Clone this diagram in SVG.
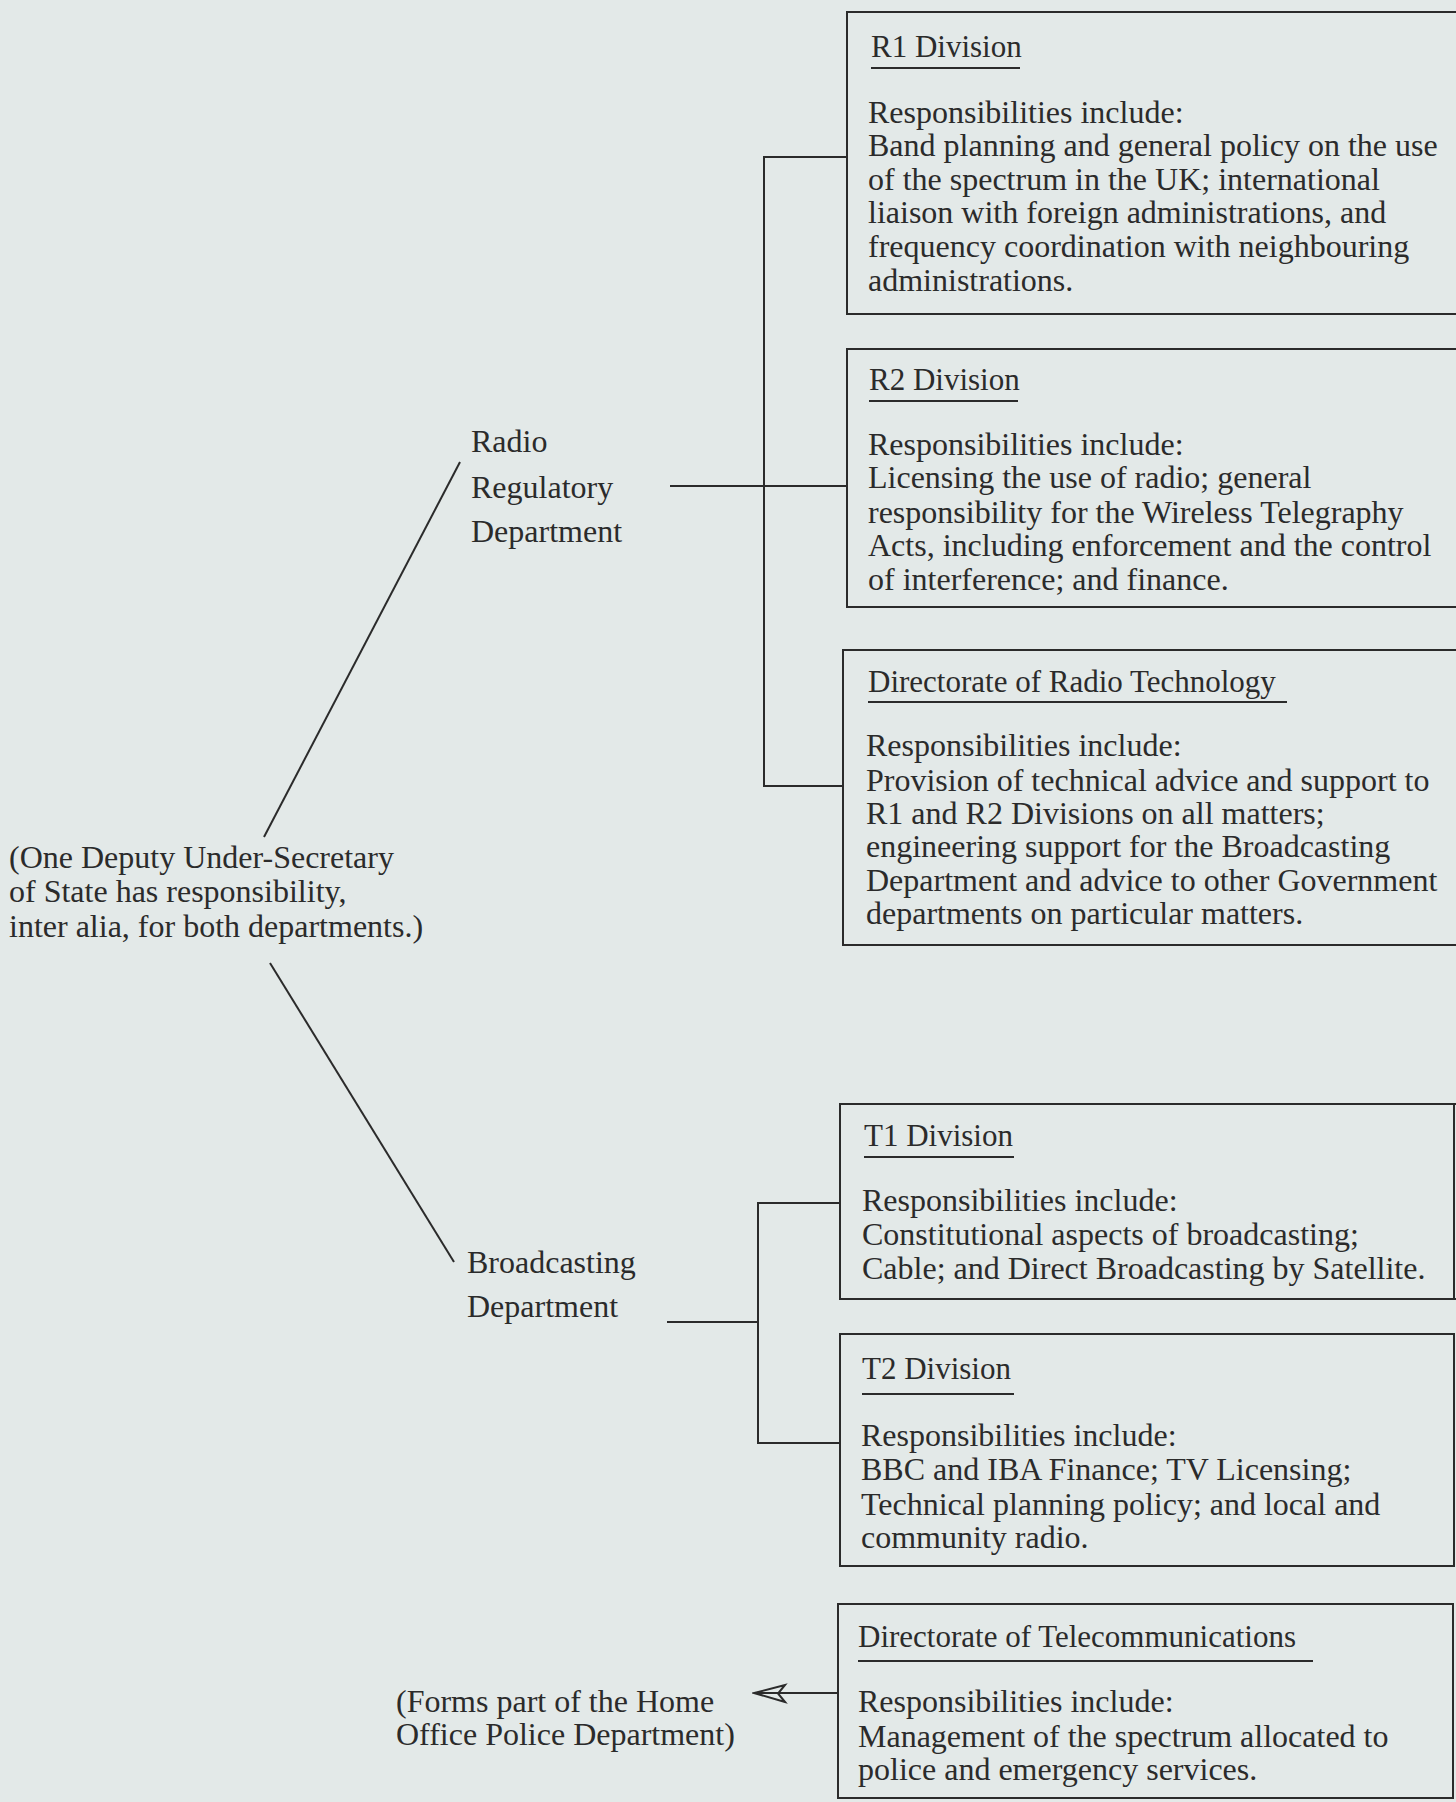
<svg xmlns="http://www.w3.org/2000/svg" width="1456" height="1802" viewBox="0 0 1456 1802">
<defs>
<style>
text{font-family:"Liberation Serif","Times New Roman",serif;font-size:32px;fill:#2b2b2b}
.title{font-size:31px}
.box{fill:none;stroke:#2b2b2b;stroke-width:2}
.ul{stroke:#2b2b2b;stroke-width:2}
.conn{fill:none;stroke:#2b2b2b;stroke-width:2}
</style>
<marker id="openArrow" viewBox="0 0 36 22" refX="34" refY="11" markerWidth="36" markerHeight="22" markerUnits="userSpaceOnUse" orient="auto">
<path d="M3,2 L34,11 L3,19 L10,10.5 Z" fill="none" stroke="#2b2b2b" stroke-width="2" stroke-linejoin="miter"/>
</marker>
</defs>
<rect x="0" y="0" width="1456" height="1802" fill="#e3e9e8"/>

<g id="connectors">
<line class="conn" x1="460" y1="462" x2="264" y2="837"/>
<line class="conn" x1="270" y1="963" x2="454" y2="1262"/>
<line class="conn" x1="670" y1="486" x2="847" y2="486"/>
<path class="conn" d="M847,157 H764 V786 H843"/>
<line class="conn" x1="667" y1="1322" x2="758" y2="1322"/>
<path class="conn" d="M840,1203 H758 V1443 H840"/>
<line class="conn" x1="838" y1="1693" x2="754" y2="1693" marker-end="url(#openArrow)"/>
</g>

<g id="note-dus">
<text x="9" y="868">(One Deputy Under-Secretary</text>
<text x="9" y="902">of State has responsibility,</text>
<text x="9" y="937">inter alia, for both departments.)</text>
</g>

<g id="radio-regulatory-department">
<text x="471" y="452">Radio</text>
<text x="471" y="498">Regulatory</text>
<text x="471" y="542">Department</text>
</g>

<g id="broadcasting-department">
<text x="467" y="1273">Broadcasting</text>
<text x="467" y="1317">Department</text>
</g>

<g id="r1-division">
<path class="box" d="M1458,12 H847 V314 H1458"/>
<text class="title" x="871" y="57">R1 Division</text>
<line class="ul" x1="871" y1="68" x2="1020" y2="68"/>
<text x="868" y="123">Responsibilities include:</text>
<text x="868" y="156">Band planning and general policy on the use</text>
<text x="868" y="190">of the spectrum in the UK;  international</text>
<text x="868" y="223">liaison with foreign administrations, and</text>
<text x="868" y="257">frequency coordination with neighbouring</text>
<text x="868" y="291">administrations.</text>
</g>

<g id="r2-division">
<path class="box" d="M1458,349 H847 V607 H1458"/>
<text class="title" x="869" y="390">R2 Division</text>
<line class="ul" x1="869" y1="401" x2="1018" y2="401"/>
<text x="868" y="455">Responsibilities include:</text>
<text x="868" y="488">Licensing the use of radio; general</text>
<text x="868" y="523">responsibility for the Wireless Telegraphy</text>
<text x="868" y="556">Acts, including enforcement and the control</text>
<text x="868" y="590">of interference; and finance.</text>
</g>

<g id="directorate-radio-technology">
<path class="box" d="M1458,650 H843 V945 H1458"/>
<text class="title" x="868" y="692">Directorate of Radio Technology</text>
<line class="ul" x1="868" y1="702" x2="1287" y2="702"/>
<text x="866" y="756">Responsibilities include:</text>
<text x="866" y="791">Provision of technical advice and support to</text>
<text x="866" y="824">R1 and R2 Divisions on all matters;</text>
<text x="866" y="857">engineering support for the Broadcasting</text>
<text x="866" y="891">Department and advice to other Government</text>
<text x="866" y="924">departments on particular matters.</text>
</g>

<g id="t1-division">
<path class="box" d="M1458,1104 H840 V1299 H1458"/>
<line class="box" x1="1454" y1="1104" x2="1454" y2="1299"/>
<text class="title" x="864" y="1146">T1 Division</text>
<line class="ul" x1="864" y1="1157" x2="1014" y2="1157"/>
<text x="862" y="1211">Responsibilities include:</text>
<text x="862" y="1245">Constitutional aspects of broadcasting;</text>
<text x="862" y="1279">Cable; and Direct Broadcasting by Satellite.</text>
</g>

<g id="t2-division">
<rect class="box" x="840" y="1334" width="614" height="232"/>
<text class="title" x="862" y="1379">T2 Division</text>
<line class="ul" x1="862" y1="1394" x2="1014" y2="1394"/>
<text x="861" y="1446">Responsibilities include:</text>
<text x="861" y="1480">BBC and IBA Finance; TV Licensing;</text>
<text x="861" y="1515">Technical planning policy; and local and</text>
<text x="861" y="1548">community radio.</text>
</g>

<g id="directorate-telecommunications">
<rect class="box" x="838" y="1604" width="615" height="194"/>
<text class="title" x="858" y="1647">Directorate of Telecommunications</text>
<line class="ul" x1="858" y1="1661" x2="1313" y2="1661"/>
<text x="858" y="1712">Responsibilities include:</text>
<text x="858" y="1747">Management of the spectrum allocated to</text>
<text x="858" y="1780">police and emergency services.</text>
</g>

<g id="note-home-office">
<text x="396" y="1712">(Forms part of the Home</text>
<text x="396" y="1745">Office Police Department)</text>
</g>
</svg>
